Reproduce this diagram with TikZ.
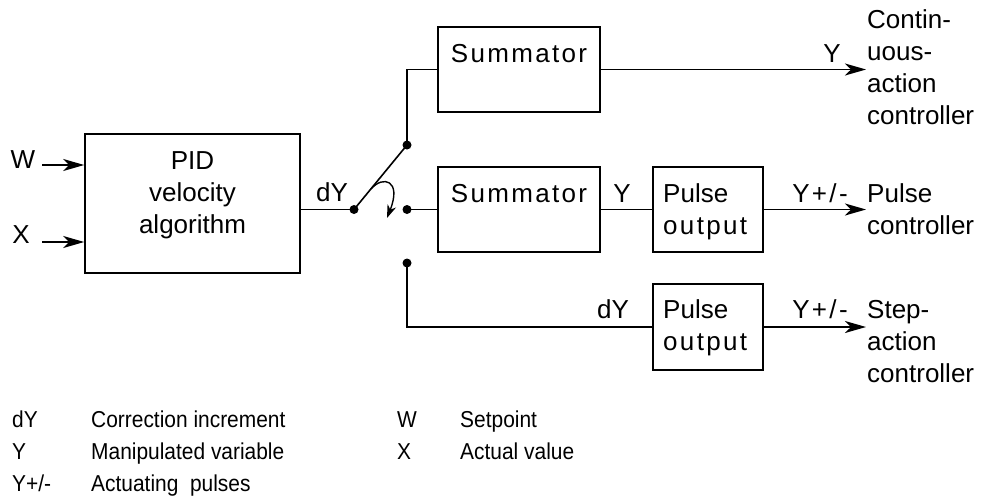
\documentclass[tikz,border=0pt]{standalone}
\usepackage{fontspec}
\setmainfont{Liberation Sans}
\newfontfamily\trackedfont[LetterSpace=9]{Liberation Sans}
\newfontfamily\keyfont[FakeStretch=0.91]{Liberation Sans}
\usetikzlibrary{arrows.meta}

\tikzset{
  x=1pt, y=-1pt,
  wire/.style={line width=1.6pt},
  flow/.style={wire, -{Stealth[length=21pt,width=12pt,inset=6pt]}},
  blockbox/.style={draw, line width=1.6pt, inner sep=0pt},
  contact/.style={circle, fill=black, inner sep=0pt, minimum size=9pt},
  txt/.style={inner sep=0pt, font=\fontsize{26}{32}\selectfont},
  tracked/.style={inner sep=0pt, font=\fontsize{26}{32}\selectfont\trackedfont},
  legend/.style={inner sep=0pt, anchor=base west, font=\keyfont\fontsize{23}{32}\selectfont},
}

\begin{document}
\begin{tikzpicture}
\useasboundingbox (0,0) rectangle (981,498);

% function blocks
\node[blockbox, minimum width=215pt, minimum height=139pt] (pid) at (192.5,203.5) {};
\node[blockbox, minimum width=162pt, minimum height=85pt] (sumA) at (519,69.5) {};
\node[blockbox, minimum width=162pt, minimum height=85pt] (sumB) at (519,209.5) {};
\node[blockbox, minimum width=110pt, minimum height=85pt] (pulseB) at (708,209.5) {};
\node[blockbox, minimum width=110pt, minimum height=86pt] (pulseC) at (708,327) {};

% block texts (multi-line nodes sit on the baseline of their last line)
\node[txt, anchor=base, align=center] (pidtxt) at (192.5,233) {PID\\velocity\\algorithm};
\node[tracked, anchor=base] (sumAtxt) at (519,62) {Summator};
\node[tracked, anchor=base] (sumBtxt) at (519,202) {Summator};
\node[txt, anchor=base west, align=left] (pulseBtxt) at (663,234) {Pulse\\{\trackedfont output}};
\node[txt, anchor=base west, align=left] (pulseCtxt) at (663,350) {Pulse\\{\trackedfont output}};

% inputs
\node[txt, anchor=base] (wlab) at (23,168) {W};
\node[txt, anchor=base] (xlab) at (21,243) {X};
\coordinate (win) at (42,165);
\coordinate (xin) at (42,242);
\draw[flow] (win) -- (win -| pid.west);
\draw[flow] (xin) -- (xin -| pid.west);

% selector switch
\node[contact] (pv) at (354,209.5) {};
\node[contact] (ctop) at (407,145) {};
\node[contact] (cmid) at (407,209.5) {};
\node[contact] (cbot) at (407,263) {};
\draw[wire] (pid.east |- pv) -- (pv.center);
\node[txt, anchor=base] (dylab) at (332,201) {dY};
\draw[wire] (pv.center) -- (ctop.center);
\coordinate (swA) at (371,189);
\coordinate (swB) at (387,218);
\draw[line width=1.4pt, -{Stealth[length=13pt,width=9pt,inset=4pt]}]
  (swA) .. controls (383,175) and (402,180) .. (swB);

% branches
\draw[wire] (ctop.center) |- (sumA.west);
\draw[wire] (cmid.center) -- (sumB.west);
\draw[wire] (cbot.center) |- (pulseC.west);
\draw[wire] (sumB.east) -- (pulseB.west);

% outputs
\coordinate (outA) at (866,69.5);
\coordinate (outB) at (866,209.5);
\coordinate (outC) at (866,327);
\draw[flow] (sumA.east) -- (outA);
\draw[flow] (pulseB.east) -- (outB);
\draw[flow] (pulseC.east) -- (outC);

% signal names
\node[txt, anchor=base] (yA) at (832,62) {Y};
\node[txt, anchor=base] (yB) at (622,202) {Y};
\node[tracked, anchor=base] (ypmB) at (820,202) {Y+/-};
\node[txt, anchor=base] (dyC) at (613,318) {dY};
\node[tracked, anchor=base] (ypmC) at (820,318) {Y+/-};

% controller types
\node[txt, anchor=base west, align=left] (ctlA) at (867,124) {Contin-\\uous-\\action\\controller};
\node[txt, anchor=base west, align=left] (ctlB) at (867,234) {Pulse\\controller};
\node[txt, anchor=base west, align=left] (ctlC) at (867,382) {Step-\\action\\controller};

% legend
\node[legend] (k1) at (12,427) {dY};
\node[legend] (d1) at (91,427) {Correction increment};
\node[legend] (k2) at (12,459) {Y};
\node[legend] (d2) at (91,459) {Manipulated variable};
\node[legend] (k3) at (12,491) {Y+/-};
\node[legend] (d3) at (91,491) {Actuating\ \ pulses};
\node[legend] (k4) at (397,427) {W};
\node[legend] (d4) at (460,427) {Setpoint};
\node[legend] (k5) at (397,459) {X};
\node[legend] (d5) at (460,459) {Actual value};
\end{tikzpicture}
\end{document}
